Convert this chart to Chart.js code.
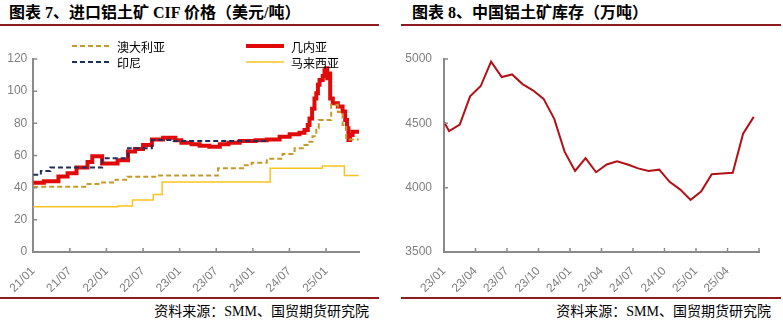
<!DOCTYPE html>
<html>
<head>
<meta charset="utf-8">
<script src="https://cdn.jsdelivr.net/npm/chart.js@4.4.0/dist/chart.umd.min.js"></script>
<style>
  body { margin: 0; background: #fff; }
  #page { position: relative; width: 783px; height: 329px; overflow: hidden; }
  .panel { position: absolute; top: 0; height: 329px; }
  .title { position: absolute; top: 4px; font: bold 16px/18px "Liberation Serif", "Noto Sans CJK SC", serif; color: #000; white-space: nowrap; }
  .rule { position: absolute; height: 2px; background: #8c1c20; }
  .src { position: absolute; top: 303px; font: 14px/18px "Liberation Serif", "Noto Sans CJK SC", serif; color: #000; white-space: nowrap; }
  canvas { position: absolute; top: 30px; left: 0; }
</style>
</head>
<body>
<div id="page">
  <div class="panel" style="left:0;width:390px">
    <div class="title" style="left:9px">图表 7、进口铝土矿 CIF 价格（美元/吨）</div>
    <div class="rule" style="left:0;top:24px;width:379px"></div>
    <canvas id="priceChart" width="390" height="266"></canvas>
    <div class="rule" style="left:0;top:297px;width:379px"></div>
    <div class="src" style="right:21px">资料来源：SMM、国贸期货研究院</div>
  </div>
  <div class="panel" style="left:390px;width:393px">
    <div class="title" style="left:22px">图表 8、中国铝土矿库存（万吨）</div>
    <div class="rule" style="left:11px;top:24px;width:380px"></div>
    <canvas id="stockChart" width="393" height="266"></canvas>
    <div class="rule" style="left:11px;top:297px;width:380px"></div>
    <div class="src" style="right:12px">资料来源：SMM、国贸期货研究院</div>
  </div>
</div>
<script>
// CIF prices (USD/t): each date is the day a new price level starts
const ausDates = ['2021-01-01', '2021-09-28', '2021-12-02', '2022-02-15', '2022-04-14', '2022-09-01',
  '2023-07-10', '2023-11-12', '2023-12-26', '2024-03-10', '2024-05-28', '2024-07-27', '2024-09-15',
  '2024-10-01', '2024-10-25', '2024-11-13', '2024-11-25', '2025-01-27', '2025-02-27', '2025-03-23',
  '2025-04-10', '2025-06-12'];
const ausPrices = [40.6, 42.3, 43.2, 45, 46.8, 47.5, 52, 54, 55.5, 58, 61, 64.5, 66.5,
  68.5, 72, 77, 82, 91.5, 87, 79, 70, 70];

const guiDates = ['2021-01-01', '2021-02-22', '2021-05-05', '2021-06-20', '2021-08-04', '2021-09-28',
  '2021-10-22', '2021-12-10', '2022-02-24', '2022-04-17', '2022-05-22', '2022-07-01', '2022-08-15',
  '2022-10-10', '2022-12-10', '2023-01-10', '2023-02-28', '2023-04-09', '2023-05-28', '2023-07-19',
  '2023-09-01', '2023-10-27', '2024-01-15', '2024-03-10', '2024-05-13', '2024-07-02', '2024-08-21',
  '2024-09-15', '2024-10-01', '2024-10-10', '2024-10-23', '2024-11-04', '2024-11-13', '2024-11-21',
  '2024-11-29', '2024-12-15', '2024-12-24', '2025-01-01', '2025-01-07', '2025-01-13', '2025-01-22',
  '2025-02-04', '2025-02-27', '2025-03-23', '2025-04-05', '2025-04-14', '2025-04-21', '2025-04-29',
  '2025-05-12', '2025-06-12'];
const guiPrices = [43, 44, 47, 49, 52.5, 56,
  59.5, 55, 57, 62.5, 64, 66.5, 70,
  71, 69.5, 68, 67, 66, 65.5, 67,
  68, 69, 69.5, 70, 71.7, 73.2, 74.2,
  75.9, 79, 83, 89, 95.5, 98.7, 104,
  107, 109.5, 113, 114.2, 108, 111, 95.5,
  92.5, 90.4, 87.3, 82, 77, 69.7, 72.8,
  74.8, 73.8];

const idnDates = ['2021-01-01', '2021-02-08', '2021-03-26', '2021-12-10', '2022-04-17', '2022-08-15',
  '2022-12-01', '2024-03-13'];
const idnPrices = [48, 50.4, 52.5, 58.3, 64.5, 69.7, 69, 69];

const myDates = ['2021-01-01', '2022-02-25', '2022-05-09', '2022-08-22', '2022-10-05', '2024-03-27',
  '2024-12-13', '2025-04-01', '2025-06-12'];
const myPrices = [28.2, 28.6, 32.3, 35.8, 43.5, 52, 53.5, 47.5, 47.5];

const priceTickLabels = ['21/01', '21/07', '22/01', '22/07', '23/01', '23/07', '24/01', '24/07', '25/01'];

// China bauxite inventory (10k t)
const stockDates = ['2023-01-01', '2023-01-16', '2023-02-15', '2023-03-16', '2023-04-16', '2023-05-16',
  '2023-06-16', '2023-07-16', '2023-08-16', '2023-09-16', '2023-10-16', '2023-11-16', '2023-12-16',
  '2024-01-16', '2024-02-15', '2024-03-16', '2024-04-16', '2024-05-16', '2024-06-16', '2024-07-16',
  '2024-08-16', '2024-09-16', '2024-10-16', '2024-11-16', '2024-12-16', '2025-01-16', '2025-02-15',
  '2025-03-16', '2025-04-16', '2025-05-16', '2025-06-16'];
const stockValues = [4510, 4440, 4490, 4710, 4790, 4980, 4860, 4880, 4805, 4755, 4690, 4535, 4280,
  4130, 4230, 4120, 4180, 4205, 4180, 4150, 4130, 4140, 4045, 3985, 3905, 3970, 4105,
  4110, 4115, 4420, 4550];
const stockTickLabels = ['23/01', '23/04', '23/07', '23/10', '24/01', '24/04', '24/07', '24/10', '25/01', '25/04'];

const AXIS_COLOR = '#8a8a8a';
const TICK_COLOR = '#7f7f7f';
const TICK_FONT = { family: '"Liberation Sans", Arial, sans-serif', size: 12 };

// months since January of baseYear, fractional within the month
function monthPos(dateStr, baseYear) {
  const [y, m, d] = dateStr.split('-').map(Number);
  const days = new Date(y, m, 0).getDate();
  return (y - baseYear) * 12 + (m - 1) + (d - 1) / days;
}
function toPoints(dates, values, baseYear) {
  return dates.map((d, i) => ({ x: monthPos(d, baseYear), y: values[i] }));
}
function labelTicks(labels, baseYear) {
  return labels.map(l => {
    const [yy, mm] = l.split('/');
    return { value: monthPos(`20${yy}-${mm}-01`, baseYear), label: l };
  });
}

const priceTicks = labelTicks(priceTickLabels, 2021);
const stockTicks = labelTicks(stockTickLabels, 2023).concat([{ value: 30, label: '' }]);

// short tick marks pointing into the plot area
const innerTicks = {
  id: 'innerTicks',
  afterDraw(chart) {
    const { ctx, chartArea: a, scales: { x, y } } = chart;
    ctx.save();
    ctx.strokeStyle = AXIS_COLOR;
    ctx.lineWidth = 1.5;
    ctx.beginPath();
    x.ticks.forEach(t => {
      const px = x.getPixelForValue(t.value);
      ctx.moveTo(px, a.bottom);
      ctx.lineTo(px, a.bottom - 4);
    });
    y.ticks.forEach(t => {
      const py = y.getPixelForValue(t.value);
      ctx.moveTo(a.left, py);
      ctx.lineTo(a.left + 4, py);
    });
    ctx.stroke();
    ctx.restore();
  }
};

// two-column legend above the plot
const pairLegend = {
  id: 'pairLegend',
  afterDraw(chart, args, opts) {
    const { ctx } = chart;
    chart.data.datasets.forEach((ds, i) => {
      const x = opts.cols[i % 2];
      const y = opts.rows[Math.floor(i / 2)];
      ctx.save();
      ctx.strokeStyle = ds.borderColor;
      ctx.lineWidth = ds.borderWidth;
      ctx.setLineDash(ds.borderDash || []);
      ctx.beginPath();
      ctx.moveTo(x, y);
      ctx.lineTo(x + opts.swatch, y);
      ctx.stroke();
      ctx.fillStyle = '#000';
      ctx.font = opts.font;
      ctx.textBaseline = 'middle';
      ctx.fillText(ds.label, x + opts.swatch + opts.gap, y + 1);
      ctx.restore();
    });
  }
};

function xAxis(max, ticks, height) {
  return {
    type: 'linear',
    min: 0,
    max: max,
    grid: { display: false, drawTicks: false },
    border: { color: AXIS_COLOR, width: 2 },
    afterBuildTicks: s => { s.ticks = ticks.map(t => ({ value: t.value })); },
    afterFit: s => { s.height = height; },
    ticks: {
      autoSkip: false,
      minRotation: 45,
      maxRotation: 45,
      padding: 12,
      color: TICK_COLOR,
      font: TICK_FONT,
      callback: v => (ticks.find(t => Math.abs(t.value - v) < 1e-6) || {}).label
    }
  };
}

function yAxis(min, max, step, width, pad) {
  return {
    min: min,
    max: max,
    grid: { display: false, drawTicks: false },
    border: { color: AXIS_COLOR, width: 2 },
    afterFit: s => { s.width = width; },
    ticks: { stepSize: step, padding: pad, color: TICK_COLOR, font: TICK_FONT, callback: v => String(v) }
  };
}

new Chart(document.getElementById('priceChart'), {
  type: 'line',
  data: {
    datasets: [
      { label: '澳大利亚', data: toPoints(ausDates, ausPrices, 2021), borderColor: '#c49a2c',
        borderWidth: 2, borderDash: [5, 3], stepped: true, order: 1 },
      { label: '几内亚', data: toPoints(guiDates, guiPrices, 2021), borderColor: '#e10a0a',
        borderWidth: 4, stepped: true, order: 2 },
      { label: '印尼', data: toPoints(idnDates, idnPrices, 2021), borderColor: '#1f2f5c',
        borderWidth: 2, borderDash: [5, 3], stepped: true, order: 0 },
      { label: '马来西亚', data: toPoints(myDates, myPrices, 2021), borderColor: '#f9c31f',
        borderWidth: 1.5, stepped: true, order: 3 }
    ]
  },
  options: {
    responsive: false,
    animation: false,
    layout: { padding: { top: 29, right: 31, left: 0, bottom: 0 } },
    elements: { point: { radius: 0 } },
    plugins: {
      legend: { display: false },
      tooltip: { enabled: false },
      pairLegend: { cols: [72, 246], rows: [16, 32], swatch: 38, gap: 7,
        font: '12px "Noto Sans CJK SC", sans-serif' }
    },
    scales: {
      x: xAxis(53.4, priceTicks, 44),
      y: yAxis(0, 120, 20, 32, 6)
    }
  },
  plugins: [innerTicks, pairLegend]
});

new Chart(document.getElementById('stockChart'), {
  type: 'line',
  data: {
    datasets: [
      { label: '中国铝土矿库存', data: toPoints(stockDates, stockValues, 2023), borderColor: '#b01218',
        borderWidth: 2, tension: 0 }
    ]
  },
  options: {
    responsive: false,
    animation: false,
    layout: { padding: { top: 29, right: 24, left: 0, bottom: 0 } },
    elements: { point: { radius: 0 } },
    plugins: { legend: { display: false }, tooltip: { enabled: false } },
    scales: {
      x: xAxis(30, stockTicks, 44),
      y: yAxis(3500, 5000, 500, 54, 12)
    }
  },
  plugins: [innerTicks]
});
</script>
</body>
</html>
